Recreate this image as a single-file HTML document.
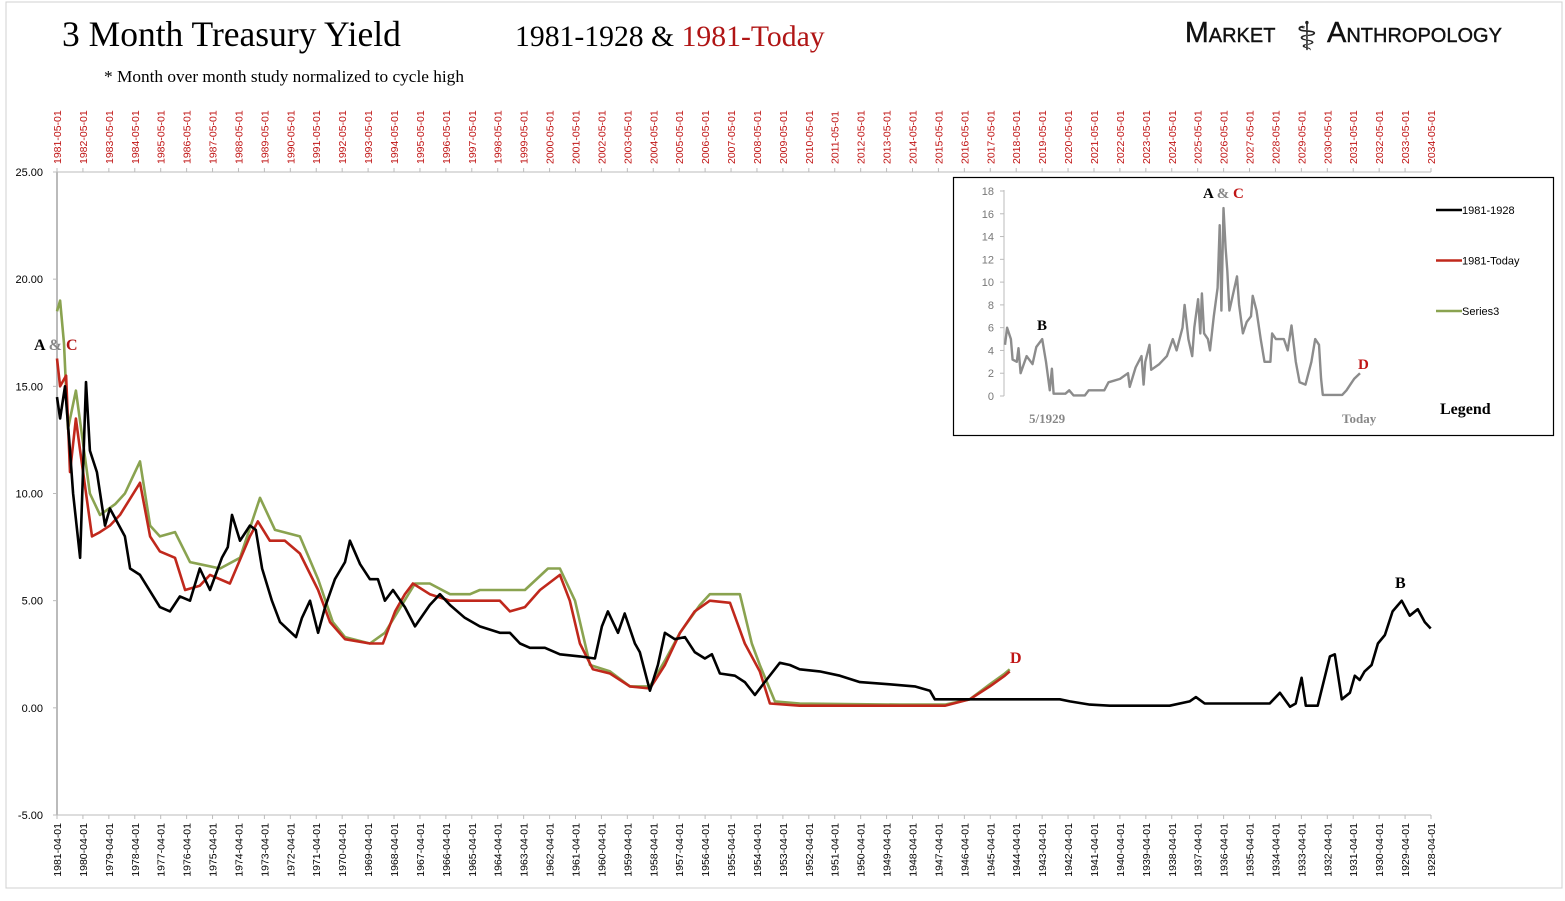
<!DOCTYPE html>
<html><head><meta charset="utf-8"><style>
body{margin:0;background:#fff;width:1565px;height:896px;overflow:hidden;font-family:"Liberation Serif",serif}
svg text{font-family:"Liberation Sans",sans-serif}
</style></head><body>
<svg id="chart" width="1565" height="896" xmlns="http://www.w3.org/2000/svg">
<rect x="6" y="2" width="1556" height="886" fill="#fff" stroke="#d0d0d0"/>
<text x="62" y="46" font-size="35.5" fill="#000" style="font-family:'Liberation Serif',serif">3 Month Treasury Yield</text>
<text x="515" y="46" font-size="29.7" style="font-family:'Liberation Serif',serif"><tspan fill="#000">1981-1928 &amp; </tspan><tspan fill="#b01515">1981-Today</tspan></text>
<text x="104" y="82" font-size="17.3" style="font-family:'Liberation Serif',serif">* Month over month study normalized to cycle high</text>
<g>
<text x="1185" y="42" font-size="28.5" fill="#111" stroke="#111" stroke-width="0.4" style="font-family:'Liberation Sans',sans-serif;font-variant:small-caps">Market</text>
<text x="1296" y="50" font-size="40" fill="#222" style="font-family:'DejaVu Sans',sans-serif">⚕</text>
<text x="1327" y="42" font-size="29" fill="#111" stroke="#111" stroke-width="0.4" style="font-family:'Liberation Sans',sans-serif;font-variant:small-caps">Anthropology</text>
</g>
<g id="axes"></g>
<g id="series"></g>
<g id="inset"></g>
<text x="34" y="350" font-size="16" font-weight="bold" style="font-family:'Liberation Serif',serif"><tspan fill="#000">A </tspan><tspan fill="#888">&amp; </tspan><tspan fill="#b01515">C</tspan></text>
<text x="1395" y="588" font-size="16" font-weight="bold" style="font-family:'Liberation Serif',serif">B</text>
<text x="1010" y="663" font-size="16" font-weight="bold" fill="#c01515" style="font-family:'Liberation Serif',serif">D</text>
</svg>
<script>
const blackT=[0,.12,.31,.5,.62,.89,1.12,1.27,1.54,1.85,2.04,2.62,2.82,3.2,3.97,4.36,4.74,5.13,5.51,5.9,6.36,6.59,6.75,7.06,7.44,7.67,7.91,8.29,8.6,9.22,9.45,9.76,10.07,10.34,10.72,11.11,11.3,11.69,12.07,12.38,12.65,12.96,13.42,13.81,14.38,14.77,15.16,15.73,16.31,17.08,17.47,17.86,18.24,18.82,19.4,20.17,20.75,21.02,21.25,21.64,21.9,22.29,22.48,22.87,23.18,23.45,23.83,24.22,24.6,24.99,25.26,25.57,26.15,26.53,26.92,27.3,27.88,28.27,28.65,29.42,30.2,30.97,32.12,33.09,33.67,33.86,38.68,39.07,39.84,40.61,42.92,43.69,43.93,44.27,46.78,47.17,47.56,47.78,48.01,48.17,48.63,49.1,49.29,49.56,49.87,50.06,50.25,50.44,50.71,50.95,51.22,51.52,51.87,52.18,52.49,52.76,52.99];
const blackV=[14.5,13.5,15,12,10,7,15.2,12,11,8.5,9.3,8,6.5,6.2,4.7,4.5,5.2,5,6.5,5.5,7,7.5,9,7.8,8.5,8.3,6.5,5,4,3.3,4.2,5,3.5,4.7,6,6.8,7.8,6.7,6,6,5,5.5,4.7,3.8,4.8,5.3,4.8,4.2,3.8,3.5,3.5,3,2.8,2.8,2.5,2.4,2.3,3.8,4.5,3.5,4.4,3,2.6,0.8,2,3.5,3.2,3.3,2.6,2.3,2.5,1.6,1.5,1.2,0.6,1.2,2.1,2,1.8,1.7,1.5,1.2,1.1,1,0.8,0.4,0.4,0.3,0.15,0.1,0.1,0.3,0.5,0.2,0.2,0.7,0.05,0.2,1.4,0.1,0.1,2.4,2.5,0.4,0.7,1.5,1.3,1.7,2,3,3.4,4.5,5,4.3,4.6,4,3.7];
const redT=[0,.12,.35,.5,.73,.89,1.35,1.66,2.04,2.43,3.2,3.59,3.97,4.55,4.94,5.51,5.9,6.67,7.44,7.75,8.21,8.79,9.37,10.07,10.53,11.11,12.07,12.57,13.04,13.42,13.73,14.38,15.16,17.08,17.47,18.05,18.63,19.4,19.78,20.17,20.67,21.33,22.1,22.87,23.45,24.03,24.6,25.18,25.96,26.53,27.11,27.5,28.65,32.51,34.25,35.21,35.98,36.56,36.75];
const redV=[16.3,15,15.5,11,13.5,12,8,8.2,8.5,9,10.5,8,7.3,7,5.5,5.7,6.2,5.8,8,8.7,7.8,7.8,7.2,5.5,4,3.2,3,3,4.5,5.3,5.8,5.3,5,5,4.5,4.7,5.5,6.2,5,3,1.8,1.6,1,0.9,2,3.5,4.5,5,4.9,3,1.7,0.2,0.1,0.1,0.1,0.4,1,1.5,1.7];
const greenT=[0,.12,.27,.42,.73,1.27,1.66,2.24,2.62,3.2,3.59,3.97,4.55,5.13,5.51,6.29,7.06,7.83,8.41,9.37,10.07,10.64,11.11,12.07,12.65,13.15,13.81,14.38,15.16,15.93,16.31,18.05,18.94,19.4,19.98,20.56,21.33,22.1,22.87,23.45,24.03,24.8,25.18,26.34,26.8,27.11,27.69,28.65,32.51,34.25,35.21,35.98,36.56,36.75];
const greenV=[18.5,19,17,13,14.8,10,9,9.5,10,11.5,8.5,8,8.2,6.8,6.7,6.5,7,9.8,8.3,8,6,4,3.3,3,3.5,4.5,5.8,5.8,5.3,5.3,5.5,5.5,6.5,6.5,5,2,1.7,1,1,2.2,3.5,4.8,5.3,5.3,3,2,0.3,0.2,0.15,0.15,0.4,1.1,1.6,1.8];
const yTicks=[25,20,15,10,5,0,-5];
const bottomYears=[];for(let y=1981;y>=1928;y--)bottomYears.push(y+'-04-01');
const topYears=[];for(let y=1981;y<=2034;y++)topYears.push(y+'-05-01');
const insetYears=[1929,1929.5,1930.4,1930.8,1931.8,1932.2,1932.7,1934.1,1935.5,1936.4,1937.8,1938.7,1939.6,1940.1,1940.5,1941.5,1943.3,1944.2,1945.2,1947.9,1948.8,1952.5,1953.5,1956.2,1958.1,1958.5,1959.9,1961.3,1961.8,1962.2,1963.2,1963.6,1965.5,1967.3,1968.7,1969.6,1971,1971.5,1972.4,1973.3,1973.8,1974.7,1975.2,1975.6,1976.1,1977,1977.5,1978.4,1979.3,1979.8,1980.2,1980.7,1981.2,1981.6,1982.1,1983,1983.9,1984.4,1985.3,1986.2,1987.2,1987.6,1988.5,1989.5,1990.4,1991.8,1992.2,1993.1,1995,1995.9,1996.8,1997.8,1998.7,2000.1,2001.5,2002.4,2003.3,2003.8,2004.2,2006.1,2008.8,2009.8,2010.7,2011.6,2013];
const insetV=[4.5,6,5,3.2,3,4.2,2,3.5,2.8,4.3,5,3,0.5,2.4,0.2,0.2,0.2,0.5,0.05,0.05,0.5,0.5,1.2,1.5,2,0.8,2.5,3.5,1,3,4.5,2.3,2.8,3.5,5,4,6,8,5,3.5,6,8.5,5.5,9,5.5,5,4,7,9.5,15,7.5,16.5,13,11,7.5,9,10.5,8,5.5,6.5,7,8.8,7.5,5,3,3,5.5,5,5,4,6.2,3,1.2,1,3,5,4.5,1.5,0.1,0.1,0.1,0.5,1,1.5,2];
const insetTicks=[0,2,4,6,8,10,12,14,16,18];
const legendNames=['1981-1928','1981-Today','Series3'];
const legendColors=['#000','#c0281c','#8aa350'];

const NS='http://www.w3.org/2000/svg';
const X0=57,X1=1431,Y0=172,Y1=815;
const xs=t=>X0+t*(X1-X0)/53;
const ys=v=>Y0+(25-v)*(Y1-Y0)/30;
function mk(tag,attrs,parent){const e=document.createElementNS(NS,tag);for(const k in attrs)e.setAttribute(k,attrs[k]);parent.appendChild(e);return e;}
const axes=document.getElementById('axes');
let l=mk('line',{x1:X0,y1:Y0,x2:X0,y2:Y1,stroke:'#bbb','stroke-width':2},axes);


l=mk('line',{x1:X0,y1:Y1,x2:X1,y2:Y1,stroke:'#bbb','stroke-width':1},axes);


l=mk('line',{x1:X0,y1:Y0,x2:X1,y2:Y0,stroke:'#bbb','stroke-width':1},axes);


yTicks.forEach(v=>{
  const t=mk('text',{x:43,y:ys(v)+4,'font-size':11,'text-anchor':'end'},axes);t.textContent=v.toFixed(2);
  
  
  mk('line',{x1:X0-4,y1:ys(v),x2:X0,y2:ys(v),stroke:'#bbb'},axes);
});
bottomYears.forEach((s,i)=>{
  const x=xs(i);
  mk('line',{x1:x,y1:Y1,x2:x,y2:Y1+4,stroke:'#bbb'},axes);
  const t=mk('text',{x:0,y:0,'font-size':10.5,'text-anchor':'end',transform:`translate(${x+4},${Y1+8}) rotate(-90)`},axes);t.textContent=s;
  
  
});
topYears.forEach((s,i)=>{
  const x=xs(i);
  mk('line',{x1:x,y1:Y0-4,x2:x,y2:Y0,stroke:'#bbb'},axes);
  const t=mk('text',{x:0,y:0,'font-size':10.5,fill:'#c01515','text-anchor':'start',transform:`translate(${x+4},${Y0-8}) rotate(-90)`},axes);t.textContent=s;
  
  
});
const ser=document.getElementById('series');
function line(T,V,color,name){
  const d=T.map((t,i)=>(i?'L':'M')+xs(t).toFixed(1)+','+ys(V[i]).toFixed(1)).join('');
  const p=mk('path',{d,fill:'none',stroke:color,'stroke-width':2.6,'stroke-linejoin':'round'},ser);
  
  
}
line(greenT,greenV,'#8aa350','series3-line');
line(redT,redV,'#c0281c','1981-today-line');
line(blackT,blackV,'#000','1981-1928-line');
const ins=document.getElementById('inset');
let r=mk('rect',{x:953.5,y:177.5,width:600,height:258,fill:'#fff',stroke:'#000','stroke-width':1.2},ins);


const iy=v=>396-v*(396-191)/18, ix=y=>1005+(y-1929)*(1360-1005)/(2013-1929);
mk('line',{x1:1004,y1:190,x2:1004,y2:396,stroke:'#bbb'},ins);
insetTicks.forEach(v=>{
  const t=mk('text',{x:994,y:iy(v)+4,'font-size':11,fill:'#777','text-anchor':'end'},ins);t.textContent=v;
  
  
  mk('line',{x1:1000,y1:iy(v),x2:1004,y2:iy(v),stroke:'#bbb'},ins);
});
const idd=insetYears.map((y,i)=>(i?'L':'M')+ix(y).toFixed(1)+','+iy(insetV[i]).toFixed(1)).join('');
let ip=mk('path',{d:idd,fill:'none',stroke:'#8c8c8c','stroke-width':2.4,'stroke-linejoin':'round'},ins);


function itext(x,y,s,size,fill,name,bold){const t=mk('text',{x,y,'font-size':size,fill,'font-weight':bold?'bold':'normal',style:"font-family:'Liberation Serif',serif"},ins);t.textContent=s;
  
  return t;}
itext(1029,423,'5/1929',13,'#888','inset-start-label',true);
itext(1342,423,'Today',13,'#888','inset-end-label',true);
itext(1440,414,'Legend',16,'#000','legend-title',true);
itext(1037,330,'B',15,'#000','inset-label-b',true);
itext(1358,369,'D',15,'#c01515','inset-label-d',true);
const ac=itext(1203,198,'',15,'#000','inset-label-a-c',true);
ac.innerHTML='<tspan fill="#000">A </tspan><tspan fill="#888">&amp; </tspan><tspan fill="#c01515">C</tspan>';
legendNames.forEach((n,i)=>{
  const y=210+i*50.5;
  const g=mk('g',{},ins);
  
  
  mk('line',{x1:1436,y1:y,x2:1462,y2:y,stroke:legendColors[i],'stroke-width':2.5},g);
  const t=mk('text',{x:1462,y:y+4,'font-size':11},g);t.textContent=n;
});
</script>
</body></html>
